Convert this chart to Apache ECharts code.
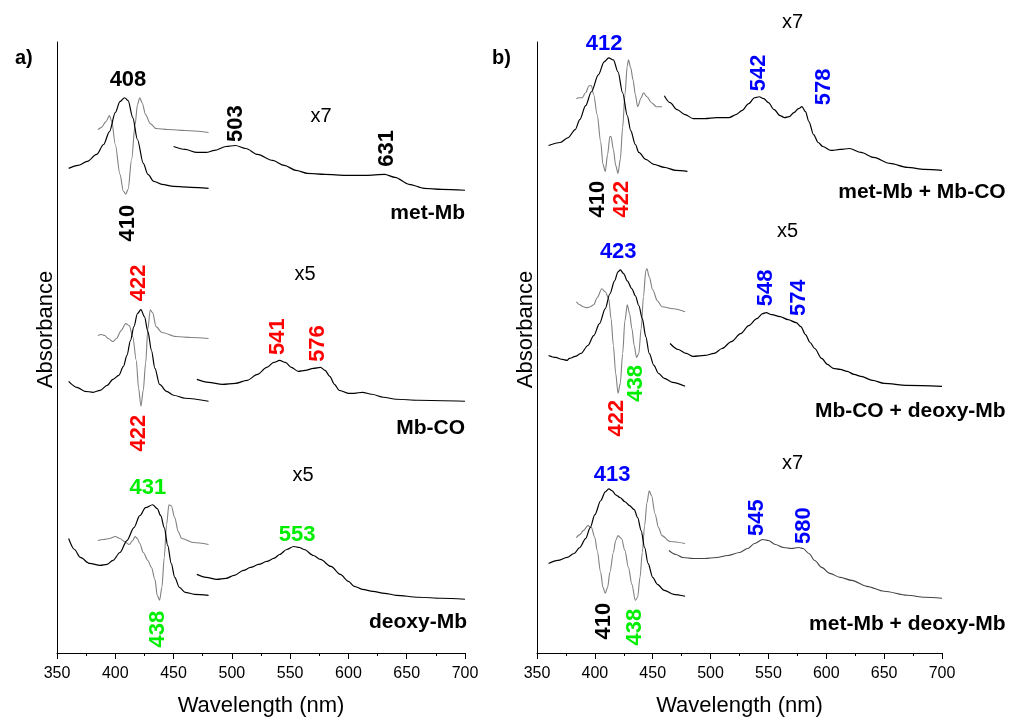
<!DOCTYPE html>
<html><head><meta charset="utf-8">
<script src="https://cdn.jsdelivr.net/npm/echarts@6/dist/echarts.min.js"></script>
<style>html,body{margin:0;padding:0;background:#fff}#c{width:1009px;height:722px}</style>
</head><body><div id="c"></div>
<script>
// ---------- axis ticks ----------
const xTicks = [350, 400, 450, 500, 550, 600, 650, 700];

// ---------- panel a) : [wavelength nm, offset absorbance (arb.)] ----------
const metMbSoret = [[360,487],[368,490],[376,494],[384,501],[390,511],[395,524],[400,543],[404,554],[408,558],[411,555],[415,538],[419,516],[424,492],[428,481],[433,474],[440,471],[450,469],[465,468],[480,467]];
const metMbDeriv = [[385,526],[388,528],[392,534],[395,540],[397,534],[400,511],[404,481],[407,464],[409,461],[411,466],[414,496],[417,531],[419,551],[421,558],[423,553],[426,541],[430,532],[435,527],[445,526],[460,525],[480,523]];
const metMbVis = [[450,509],[460,506],[470,503],[478,503],[485,505],[495,509],[503,510],[512,507],[522,501],[535,495],[545,490],[555,485],[565,482],[580,481],[598,480],[615,480],[631,481],[640,478],[652,471],[665,467],[680,466],[700,465]];

const mbcoSoret = [[360,273],[367,267],[374,263],[381,262],[387,264],[393,269],[398,275],[403,279],[407,288],[410,299],[413,314],[416,328],[419,341],[422,345],[425,338],[428,323],[431,304],[434,286],[438,270],[444,263],[450,259],[460,256],[480,253]];
const mbcoDeriv = [[385,319],[388,320],[391,319],[394,316],[398,313],[401,316],[405,324],[409,331],[412,329],[415,318],[418,294],[420,266],[422,248],[424,264],[426,291],[428,326],[430,345],[432,342],[435,328],[440,322],[452,318],[465,317],[480,316]];
const mbcoVis = [[470,275],[480,272],[492,270],[503,271],[513,274],[522,280],[530,287],[536,292],[541,294],[546,292],[551,287],[557,283],[563,284],[570,286],[576,287],[580,284],[584,278],[588,270],[592,264],[600,261],[605,261],[612,262],[620,260],[630,257],[641,255],[660,254],[700,253]];

const deoxySoret = [[360,115],[365,104],[370,96],[378,90],[387,88],[393,89],[398,93],[404,101],[410,113],[416,126],[421,138],[426,146],[432,149],[436,145],[439,138],[442,126],[445,108],[448,90],[451,76],[455,66],[460,61],[468,59],[480,58]];
const deoxyDeriv = [[385,113],[390,114],[395,115],[400,117],[404,115],[408,112],[412,109],[415,113],[417,117],[419,115],[421,110],[424,101],[428,93],[431,86],[434,74],[436,58],[438,53],[440,66],[442,96],[444,129],[446,149],[448,148],[451,136],[454,122],[457,115],[467,111],[480,109]];
const deoxyVis = [[470,79],[478,76],[487,74],[495,75],[502,78],[510,83],[516,86],[523,89],[530,92],[536,95],[541,99],[547,104],[553,107],[558,106],[562,104],[570,98],[576,94],[585,87],[593,79],[600,72],[605,67],[612,64],[621,62],[631,60],[641,58],[660,56],[680,55],[700,54]];

// ---------- panel b) ----------
const mixAB_Soret = [[360,510],[370,513],[377,518],[383,526],[387,536],[392,550],[397,564],[403,581],[408,594],[412,598],[416,596],[420,584],[424,563],[428,540],[431,525],[435,511],[438,503],[444,496],[451,491],[460,488],[470,485],[480,484]];
const mixAB_Deriv = [[384,557],[386,558],[389,558],[392,563],[395,570],[397,570],[399,561],[402,541],[405,514],[407,491],[409,484],[411,501],[413,519],[414,519],[416,506],[418,490],[420,482],[422,496],[424,528],[426,561],[428,590],[429,596],[431,588],[433,576],[435,561],[437,549],[440,558],[442,563],[445,559],[449,553],[453,549],[458,549]];
const mixAB_Vis = [[460,560],[465,553],[471,546],[478,541],[485,537],[495,537],[505,538],[516,538],[522,541],[527,545],[533,552],[538,558],[542,559],[546,557],[550,553],[555,546],[560,540],[564,538],[568,539],[572,543],[576,547],[579,549],[582,544],[585,534],[589,521],[593,513],[597,509],[604,505],[612,506],[620,507],[630,503],[641,498],[655,492],[670,488],[685,486],[700,485]];

const mixBC_Soret = [[360,299],[366,297],[372,295],[376,294],[378,296],[383,298],[388,301],[394,309],[399,319],[404,331],[409,346],[413,361],[417,374],[420,383],[422,385],[425,381],[428,374],[432,366],[435,359],[438,349],[441,336],[444,318],[447,301],[451,289],[455,281],[460,276],[467,272],[478,268]];
const mixBC_Deriv = [[384,353],[387,350],[390,348],[393,347],[396,348],[399,350],[402,357],[406,366],[409,363],[412,356],[414,336],[416,309],[418,281],[420,261],[422,271],[424,301],[426,334],[428,350],[430,341],[432,326],[434,309],[436,297],[438,301],[440,326],[442,358],[444,384],[445,386],[447,378],[450,365],[454,354],[458,348],[468,346],[478,343]];
const mixBC_Vis = [[465,311],[472,305],[479,301],[485,298],[495,299],[503,301],[510,306],[518,313],[526,321],[533,329],[540,336],[545,341],[548,342],[553,340],[560,338],[567,335],[574,332],[578,328],[582,320],[586,312],[590,306],[596,296],[601,290],[606,286],[612,285],[618,283],[624,280],[630,278],[640,274],[650,271],[670,269],[700,268]];

const mixAC_Soret = [[360,90],[368,93],[376,96],[382,100],[387,106],[392,115],[396,126],[400,139],[405,153],[409,162],[412,165],[415,163],[418,159],[422,156],[426,152],[430,148],[434,144],[437,136],[440,123],[443,106],[446,90],[450,76],[454,69],[460,63],[468,59],[478,57]];
const mixAC_Deriv = [[384,116],[387,119],[390,123],[394,128],[397,126],[400,116],[402,103],[405,81],[407,66],[409,60],[411,66],[413,81],[416,101],[418,113],[420,118],[423,115],[426,103],[429,86],[432,69],[435,53],[437,56],[439,76],[441,101],[443,128],[445,151],[447,163],[449,158],[452,140],[455,126],[458,118],[465,112],[478,110]];
const mixAC_Vis = [[464,103],[470,99],[476,96],[485,95],[495,95],[505,96],[515,98],[525,101],[532,105],[538,110],[545,114],[550,113],[556,109],[563,106],[570,105],[576,106],[580,105],[585,100],[590,93],[596,86],[603,80],[612,76],[622,73],[635,67],[650,62],[670,58],[685,56],[700,55]];

// ---------- annotations: [nm, y, text] ----------
const RED = '#ff0000', GREEN = '#00ee00', BLUE = '#0000ff', BLACK = '#000000';
const peaksA = [
  [410.9, 576, '408', BLACK, 0], [410.9, 432, '410', BLACK, 90],
  [503.6, 532, '503', BLACK, 90], [633, 507, '631', BLACK, 90],
  [420.3, 372, '422', RED, 90], [420.3, 221, '422', RED, 90],
  [539.6, 318, '541', RED, 90], [573.9, 311, '576', RED, 90],
  [428, 166, '431', GREEN, 0], [436.6, 24, '438', GREEN, 90],
  [555.9, 119, '553', GREEN, 0]
];
const scalesA = [[576.5, 539, 'x7'], [562.7, 380, 'x5'], [561, 178, 'x5']];
const namesA = [[700, 442, 'met-Mb'], [700, 226, 'Mb-CO'], [701.7, 31, 'deoxy-Mb']];

const peaksB = [
  [408, 612, '412', BLUE, 0], [402.8, 456, '410', BLACK, 90], [423.6, 456, '422', RED, 90],
  [541.5, 583, '542', BLUE, 90], [597.8, 569, '578', BLUE, 90],
  [420.2, 403, '423', BLUE, 0], [419.3, 236, '422', RED, 90], [435.8, 271, '438', GREEN, 90],
  [547.5, 367, '548', BLUE, 90], [576.1, 357, '574', BLUE, 90],
  [415, 179, '413', BLUE, 0], [408, 32, '410', BLACK, 90], [434.9, 26, '438', GREEN, 90],
  [539.7, 136, '545', BLUE, 90], [580.4, 128, '580', BLUE, 90]
];
const scalesB = [[570.9, 634, 'x7'], [566.6, 424, 'x5'], [570.9, 190, 'x7']];
const namesB = [[755, 463, 'met-Mb + Mb-CO'], [755, 243, 'Mb-CO + deoxy-Mb'], [755, 29, 'met-Mb + deoxy-Mb']];

// ---------- chart ----------
const FONT = '"Liberation Sans", Arial, Helvetica, sans-serif';
const chart = echarts.init(document.getElementById('c'), null, {renderer: 'canvas'});

function xAxis(gi) {
  return {
    type: 'value', gridIndex: gi, min: xTicks[0], max: xTicks[xTicks.length - 1],
    interval: xTicks[1] - xTicks[0],
    name: 'Wavelength (nm)', nameLocation: 'middle', nameGap: 42,
    nameTextStyle: {fontSize: 22, color: '#000', fontFamily: FONT},
    axisLine: {show: true, onZero: false, lineStyle: {color: '#000', width: 1}},
    axisTick: {show: true, inside: false, length: 6, lineStyle: {color: '#000'}},
    minorTick: {show: true, splitNumber: 2, length: 3, lineStyle: {color: '#000'}},
    splitLine: {show: false},
    axisLabel: {fontSize: 16, color: '#000', fontFamily: FONT, margin: 13}
  };
}
function yAxis(gi) {
  return {
    type: 'value', gridIndex: gi, min: 0, max: 614,
    name: 'Absorbance', nameLocation: 'middle', nameGap: 0, nameRotate: 90,
    nameTextStyle: {fontSize: 22, color: '#000', fontFamily: FONT, padding: [0, 0, 0, 36]},
    axisLine: {show: true, onZero: false, lineStyle: {color: '#000', width: 1}},
    axisTick: {show: false}, axisLabel: {show: false}, splitLine: {show: false}
  };
}
function line(data, gi, color, width) {
  return {
    type: 'line', xAxisIndex: gi, yAxisIndex: gi, data: data, showSymbol: false,
    smooth: 0.3, smoothMonotone: 'x', silent: true, animation: false,
    lineStyle: {color: color, width: width}
  };
}
function labels(arr, gi, kind) {
  return {
    type: 'scatter', xAxisIndex: gi, yAxisIndex: gi, symbolSize: 0, clip: false, silent: true,
    animation: false, z: 10, itemStyle: {opacity: 1},
    data: arr.map(a => {
      let lab;
      if (kind === 'peak') {
        lab = {show: true, formatter: a[2], color: a[3], rotate: a[4], fontWeight: 'bold', fontSize: 22,
               fontFamily: FONT, position: 'inside', align: 'center', verticalAlign: 'middle', opacity: 1};
      } else if (kind === 'scale') {
        lab = {show: true, formatter: a[2], color: '#000', fontSize: 20, fontFamily: FONT, opacity: 1,
               position: 'inside', align: 'center', verticalAlign: 'middle'};
      } else {
        lab = {show: true, formatter: a[2], color: '#000', fontWeight: 'bold', fontSize: 21, fontFamily: FONT,
               opacity: 1, position: 'left', distance: 0, align: 'right', verticalAlign: 'middle'};
      }
      return {value: [a[0], a[1]], label: lab};
    })
  };
}

const GRAY = '#808080';
chart.setOption({
  backgroundColor: '#fff',
  animation: false,
  textStyle: {fontFamily: FONT},
  title: [
    {text: 'a)', left: 10, top: 43, textStyle: {fontSize: 20, fontWeight: 'bold', color: '#000', fontFamily: FONT}},
    {text: 'b)', left: 487, top: 43, textStyle: {fontSize: 20, fontWeight: 'bold', color: '#000', fontFamily: FONT}}
  ],
  grid: [
    {left: 57, top: 42, width: 408, height: 614},
    {left: 537, top: 42, width: 405, height: 614}
  ],
  xAxis: [xAxis(0), xAxis(1)],
  yAxis: [yAxis(0), yAxis(1)],
  series: [
    line(metMbDeriv, 0, GRAY, 1.1), line(metMbSoret, 0, '#000', 1.2), line(metMbVis, 0, '#000', 1.2),
    line(mbcoDeriv, 0, GRAY, 1.1), line(mbcoSoret, 0, '#000', 1.2), line(mbcoVis, 0, '#000', 1.2),
    line(deoxyDeriv, 0, GRAY, 1.1), line(deoxySoret, 0, '#000', 1.2), line(deoxyVis, 0, '#000', 1.2),
    line(mixAB_Deriv, 1, GRAY, 1.1), line(mixAB_Soret, 1, '#000', 1.2), line(mixAB_Vis, 1, '#000', 1.2),
    line(mixBC_Deriv, 1, GRAY, 1.1), line(mixBC_Soret, 1, '#000', 1.2), line(mixBC_Vis, 1, '#000', 1.2),
    line(mixAC_Deriv, 1, GRAY, 1.1), line(mixAC_Soret, 1, '#000', 1.2), line(mixAC_Vis, 1, '#444', 1.1),
    labels(peaksA, 0, 'peak'), labels(scalesA, 0, 'scale'), labels(namesA, 0, 'name'),
    labels(peaksB, 1, 'peak'), labels(scalesB, 1, 'scale'), labels(namesB, 1, 'name')
  ]
});
</script>
</body></html>
